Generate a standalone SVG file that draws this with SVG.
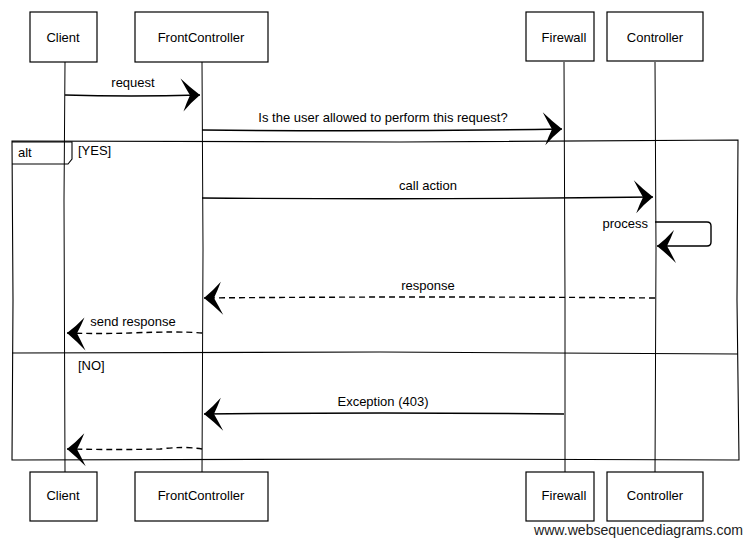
<svg xmlns="http://www.w3.org/2000/svg" width="746" height="541" viewBox="0 0 746 541">
<style>
.box{fill:#fff;stroke:#000;stroke-width:1.2}
.life{fill:none;stroke:#000;stroke-width:1}
.msg{fill:none;stroke:#000;stroke-width:1.4}
.dash{stroke-dasharray:6,4}
.frame{fill:none;stroke:#000;stroke-width:1.1}
text{font-family:"Liberation Sans",Arial,sans-serif;font-size:13px;fill:#000}
.c{text-anchor:middle}
</style>
<defs>
<marker id="ah" markerUnits="userSpaceOnUse" markerWidth="26" markerHeight="38" refX="22" refY="18" orient="auto" overflow="visible">
<path d="M22,18 Q12,10 3,1 Q8,11 12,18 Q8,26 5,34 Q13,25 22,18 Z" fill="#000"/>
</marker>
</defs>
<rect width="746" height="541" fill="#fff"/>
<g id="lifelines">
<path class="life" d="M65,62 L64,200 L65,472"/>
<path class="life" d="M202,62 L203,250 L202,472"/>
<path class="life" d="M564,62 L565,300 L565,472"/>
<path class="life" d="M655,62 L656,250 L655,472"/>
</g>
<g id="alt-frame">
<path class="frame" d="M12,141 L400,142 L738,140 L737,300 L739,460 L400,459 L12,460 L13,300 Z"/>
<path class="frame" d="M12,353 L380,352 L738,354"/>
<path class="frame" d="M12,142 L72,142 L72,159 L68,164 L12,164"/>
<text x="18" y="157">alt</text>
<text x="78" y="155">[YES]</text>
<text x="78" y="370">[NO]</text>
</g>
<g id="connectors">
<path class="msg" d="M65,95 Q130,97 200,95" marker-end="url(#ah)"/>
<text class="c" x="133" y="87">request</text>
<path class="msg" d="M202,130 Q380,132 562,129" marker-end="url(#ah)"/>
<text class="c" x="383" y="122">Is the user allowed to perform this request?</text>
<path class="msg" d="M202,198 Q430,200 653,197" marker-end="url(#ah)"/>
<text class="c" x="428" y="190">call action</text>
<path class="msg" d="M655,222 L707,222 Q711,222 711,226 L711,242 Q711,246 707,246 L657,246" marker-end="url(#ah)"/>
<text x="648" y="228" text-anchor="end">process</text>
<path class="msg dash" d="M655,298 Q430,296 204,298" marker-end="url(#ah)"/>
<text class="c" x="428" y="290">response</text>
<path class="msg dash" d="M202,333 Q180,331 130,333 Q100,334 67,333" marker-end="url(#ah)"/>
<text class="c" x="133" y="326">send response</text>
<path class="msg" d="M564,414 Q380,412 204,414" marker-end="url(#ah)"/>
<text class="c" x="383" y="406">Exception (403)</text>
<path class="msg dash" d="M202,449 Q185,446 160,449 Q120,450 67,449" marker-end="url(#ah)"/>
</g>
<g id="client-top"><rect class="box" x="30" y="12" width="67" height="50"/><text class="c" x="63" y="42">Client</text></g>
<g id="frontcontroller-top"><rect class="box" x="135" y="12" width="133" height="50"/><text class="c" x="201" y="42">FrontController</text></g>
<g id="firewall-top"><rect class="box" x="526" y="12" width="68" height="49"/><text class="c" x="564" y="42">Firewall</text></g>
<g id="controller-top"><rect class="box" x="607" y="12" width="96" height="49"/><text class="c" x="655" y="42">Controller</text></g>
<g id="client-bottom"><rect class="box" x="30" y="472" width="67" height="49"/><text class="c" x="63" y="500">Client</text></g>
<g id="frontcontroller-bottom"><rect class="box" x="135" y="472" width="133" height="49"/><text class="c" x="201" y="500">FrontController</text></g>
<g id="firewall-bottom"><rect class="box" x="526" y="472" width="68" height="49"/><text class="c" x="564" y="500">Firewall</text></g>
<g id="controller-bottom"><rect class="box" x="607" y="472" width="96" height="49"/><text class="c" x="655" y="500">Controller</text></g>
<text x="534" y="535" textLength="209" lengthAdjust="spacingAndGlyphs" style="font-size:14px;fill:#222">www.websequencediagrams.com</text>
</svg>
